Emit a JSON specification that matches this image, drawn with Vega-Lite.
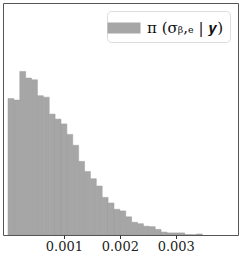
{
  "$schema": "https://vega.github.io/schema/vega-lite/v6.json",
  "width": 235,
  "height": 232,
  "autosize": {"type": "none"},
  "padding": {"left": 3, "top": 3, "right": 3, "bottom": 22},
  "config": {"view": {"stroke": "#555555", "strokeWidth": 1}, "font": "'DejaVu Serif', 'Liberation Serif', serif"},
  "data": {"values": [
    {"bin_start": 0, "bin_end": 0.0001053, "density": 652},
    {"bin_start": 0.0001053, "bin_end": 0.0002106, "density": 645},
    {"bin_start": 0.0002106, "bin_end": 0.0003159, "density": 782},
    {"bin_start": 0.0003159, "bin_end": 0.0004212, "density": 750},
    {"bin_start": 0.0004212, "bin_end": 0.0005265, "density": 742},
    {"bin_start": 0.0005265, "bin_end": 0.0006318, "density": 666},
    {"bin_start": 0.0006318, "bin_end": 0.0007371, "density": 659},
    {"bin_start": 0.0007371, "bin_end": 0.0008424, "density": 578},
    {"bin_start": 0.0008424, "bin_end": 0.0009477, "density": 554},
    {"bin_start": 0.0009477, "bin_end": 0.001053, "density": 531},
    {"bin_start": 0.001053, "bin_end": 0.0011583, "density": 481},
    {"bin_start": 0.0011583, "bin_end": 0.0012636, "density": 429},
    {"bin_start": 0.0012636, "bin_end": 0.0013689, "density": 352},
    {"bin_start": 0.0013689, "bin_end": 0.0014742, "density": 304},
    {"bin_start": 0.0014742, "bin_end": 0.0015795, "density": 269},
    {"bin_start": 0.0015795, "bin_end": 0.0016848, "density": 234},
    {"bin_start": 0.0016848, "bin_end": 0.0017901, "density": 180},
    {"bin_start": 0.0017901, "bin_end": 0.0018954, "density": 153},
    {"bin_start": 0.0018954, "bin_end": 0.0020007, "density": 123},
    {"bin_start": 0.0020007, "bin_end": 0.002106, "density": 115},
    {"bin_start": 0.002106, "bin_end": 0.0022113, "density": 87},
    {"bin_start": 0.0022113, "bin_end": 0.0023166, "density": 61},
    {"bin_start": 0.0023166, "bin_end": 0.0024219, "density": 54},
    {"bin_start": 0.0024219, "bin_end": 0.0025272, "density": 42},
    {"bin_start": 0.0025272, "bin_end": 0.0026325, "density": 40},
    {"bin_start": 0.0026325, "bin_end": 0.0027378, "density": 27},
    {"bin_start": 0.0027378, "bin_end": 0.0028431, "density": 14},
    {"bin_start": 0.0028431, "bin_end": 0.0029484, "density": 10},
    {"bin_start": 0.0029484, "bin_end": 0.0030537, "density": 10},
    {"bin_start": 0.0030537, "bin_end": 0.003159, "density": 10},
    {"bin_start": 0.003159, "bin_end": 0.0032643, "density": 2},
    {"bin_start": 0.0032643, "bin_end": 0.0033696, "density": 1.5},
    {"bin_start": 0.0033696, "bin_end": 0.0034749, "density": 5}
  ]},
  "mark": {"type": "bar", "orient": "vertical", "stroke": "#9c9c9c", "strokeWidth": 0.5, "clip": true},
  "encoding": {
    "x": {
      "field": "bin_start", "type": "quantitative",
      "scale": {"domain": [0, 0.004024], "nice": false, "zero": false},
      "axis": {"values": [0.001, 0.002, 0.003], "format": ".3f", "title": null, "grid": false, "domain": false,
        "ticks": true, "tickSize": 3.5, "tickColor": "#333333", "labelFont": "'DejaVu Serif', 'Liberation Serif', serif", "labelFontSize": 13,
        "labelColor": "#222222", "labelPadding": 2}
    },
    "x2": {"field": "bin_end"},
    "y": {"field": "density", "type": "quantitative", "scale": {"domain": [0, 1109], "nice": false}, "axis": null},
    "y2": {"datum": 0},
    "color": {
      "datum": "π (σᵦ,ₑ | 𝒚)",
      "type": "nominal",
      "scale": {"range": ["#a6a6a6"]},
      "legend": {"title": null, "orient": "top-right", "offset": 8, "fillColor": "white", "strokeColor": "#dddddd",
        "cornerRadius": 4, "padding": 6, "symbolType": "M-1.5,-0.5H1.5V0.5H-1.5Z", "symbolSize": 484,
        "symbolStrokeWidth": 0, "symbolOpacity": 1, "labelFont": "'DejaVu Serif', 'Liberation Serif', serif", "labelFontSize": 15,
        "labelOffset": 12, "labelColor": "#111111"}
    }
  }
}
